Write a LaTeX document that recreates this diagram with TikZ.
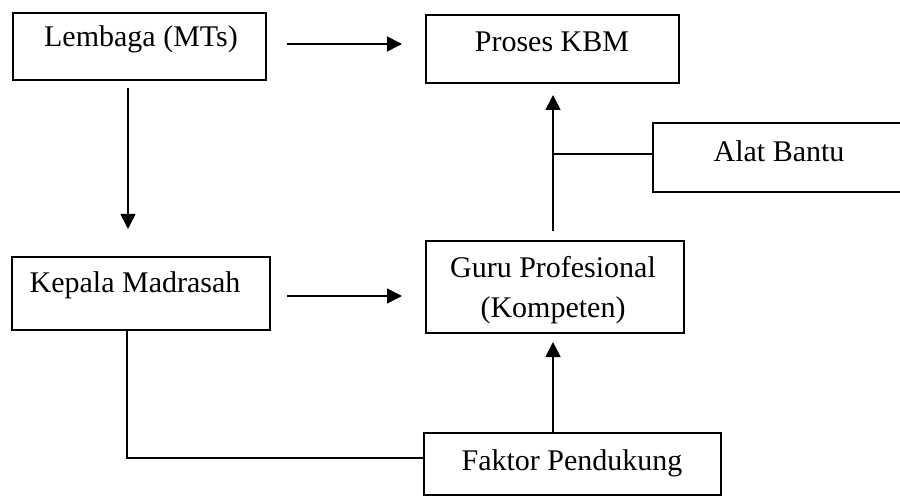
\documentclass[tikz,border=0pt]{standalone}
\usepackage{fontspec}
\setmainfont{Liberation Serif}
\usetikzlibrary{arrows.meta,calc}
\tikzset{
  box/.style={draw, line width=1.6pt, inner sep=0pt},
  txt/.style={anchor=base, inner sep=0pt, font=\fontsize{30pt}{33pt}\selectfont},
  conn/.style={line width=1.6pt},
  arr/.style={conn, -{Triangle[length=15pt,width=15pt]}}
}
\begin{document}
\begin{tikzpicture}[x=1pt,y=-1pt]
\useasboundingbox[fill=white] (0,0) rectangle (900,497);
% boxes
\node[box, minimum width=253pt, minimum height=67pt, anchor=north west] (L) at (12,12) {};
\node[box, minimum width=253pt, minimum height=68pt, anchor=north west] (P) at (425,14) {};
\node[box, minimum width=256pt, minimum height=69pt, anchor=north west] (A) at (652,122) {};
\node[box, minimum width=258pt, minimum height=73pt, anchor=north west] (K) at (11,256) {};
\node[box, minimum width=258pt, minimum height=92pt, anchor=north west] (G) at (425,240) {};
\node[box, minimum width=297pt, minimum height=62pt, anchor=north west] (F) at (423,432) {};
% texts
\node[txt] (tL) at (141,47) {Lembaga (MTs)};
\node[txt] (tP) at (552,52) {Proses KBM};
\node[txt] (tA) at (779,162) {Alat Bantu};
\node[txt] (tK) at (135,293) {Kepala Madrasah};
\node[txt] (tG1) at (553,278) {Guru Profesional};
\node[txt] (tG2) at (553,317) {(Kompeten)};
\node[txt] (tF) at (572,470) {Faktor Pendukung};
% connector end points
\coordinate (l1) at (287,44);
\coordinate (l2) at (402,44);
\coordinate (d1) at (128,88);
\coordinate (d2) at (128,229);
\coordinate (k1) at (287,296);
\coordinate (k2) at (402,296);
\coordinate (g1) at (553,231);
\coordinate (g2) at (553,95);
\coordinate (j) at (553,154);
\coordinate (f2) at (553,342);
\coordinate (kb) at (127,458);
% connectors
\draw[arr] (l1) -- (l2);
\draw[arr] (d1) -- (d2);
\draw[arr] (k1) -- (k2);
\draw[arr] (g1) -- (g2);
\draw[conn] (j) -- (j -| A.west);
\draw[arr] (F.north -| f2) -- (f2);
\draw[conn] (K.south -| kb) -- (kb) -- (kb -| F.west);
\end{tikzpicture}
\end{document}
